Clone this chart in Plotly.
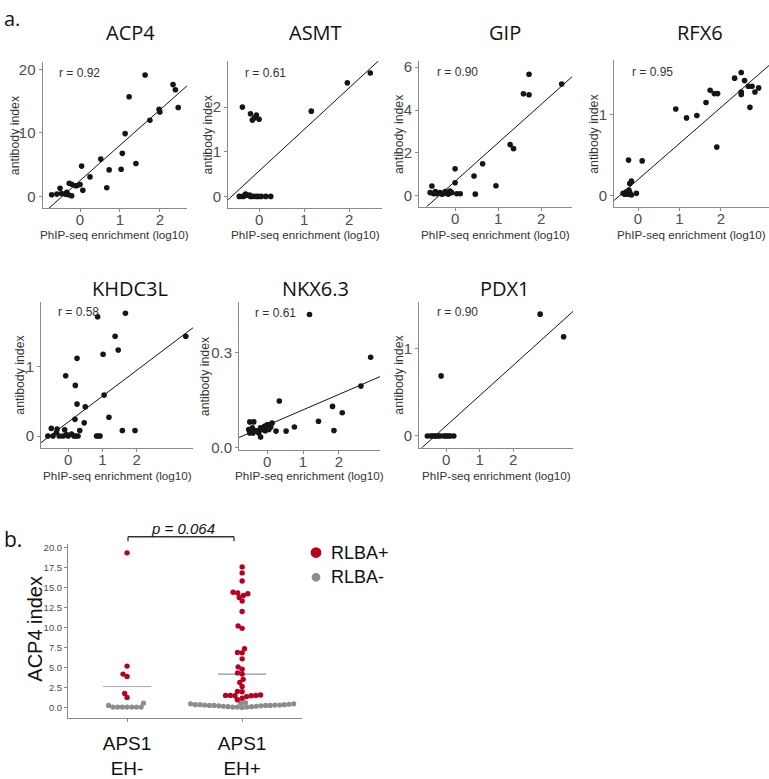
import numpy as np
import plotly.graph_objects as go

W, H = 769, 779

# ---------------- data: panel a (PhIP-seq enrichment vs antibody index) ----------------
gene_names = ["ACP4", "ASMT", "GIP", "RFX6", "KHDC3L", "NKX6.3", "PDX1"]
r_values = ["0.92", "0.61", "0.90", "0.95", "0.58", "0.61", "0.90"]

acp4_x = [1.63, 2.33, 2.39, 1.23, 2.46, 1.98, 2.0, 1.75, 1.13, 0.52, 1.06, 1.40, 0.04, 0.73, 1.03,
          0.25, 0.67, -0.27, 0.0, 0.07, -0.12, -0.5, -0.71, -0.58, -0.46, -0.37, -0.29, -0.21,
          -0.33, -0.08, -0.21]
acp4_y = [19.1, 17.6, 16.8, 15.7, 14.0, 13.7, 13.3, 12.0, 9.9, 5.9, 6.8, 5.2, 4.8, 4.2, 4.3,
          3.1, 1.4, 2.1, 1.9, 1.0, 1.7, 1.3, 0.3, 0.4, 0.5, 0.4, 0.3, 0.15,
          0.67, 1.7, 1.95]

asmt_x = [-0.37, -0.19, -0.06, -0.15, -0.10, 0.0, 1.16, 1.96, 2.47, -0.44, -0.36, -0.30, -0.24,
          -0.19, -0.13, -0.07, -0.02, 0.05, 0.15, 0.26, -0.33, -0.21]
asmt_y = [2.0, 1.85, 1.82, 1.71, 1.76, 1.73, 1.91, 2.54, 2.76, 0.01, 0.01, 0.06, 0.03,
          0.01, 0.01, 0.01, 0.01, 0.01, 0.01, 0.01, 0.02, 0.04]

gip_x = [1.72, 2.48, 1.59, 1.72, 1.28, 1.36, 0.64, 0.0, 0.44, 0.0, 0.95, -0.54, 0.47, -0.58,
         -0.5, -0.43, -0.35, -0.27, -0.19, -0.12, -0.16, -0.08, 0.04, 0.12, -0.46, -0.31, -0.23]
gip_y = [5.67, 5.21, 4.76, 4.71, 2.39, 2.2, 1.5, 1.26, 0.93, 0.61, 0.47, 0.46, 0.08, 0.15,
         0.1, 0.1, 0.15, 0.1, 0.15, 0.23, 0.08, 0.15, 0.1, 0.1, 0.2, 0.08, 0.2]

rfx6_x = [2.49, 2.33, 2.57, 2.75, 2.91, 2.66, 1.74, 1.84, 1.92, 2.49, 2.49, 2.82, 1.64, 2.70,
          0.91, 1.17, 1.42, 1.90, -0.23, 0.10, -0.16, -0.20, -0.36, -0.28, -0.24, -0.20, -0.16,
          -0.04, -0.32, -0.22]
rfx6_y = [1.52, 1.45, 1.42, 1.35, 1.33, 1.35, 1.30, 1.26, 1.26, 1.28, 1.25, 1.28, 1.15, 1.09,
          1.07, 0.96, 0.99, 0.60, 0.44, 0.43, 0.18, 0.15, 0.03, 0.05, 0.02, 0.04, 0.01,
          0.03, 0.02, 0.07]

khdc3l_x = [0.86, 1.67, 1.37, 3.43, 1.46, 1.02, 0.26, -0.07, 0.21, 1.05, 0.26, 0.50, 0.20, 1.19,
            0.47, 1.58, 1.95, 0.34, -0.49, -0.32, -0.10, -0.59, -0.44, -0.26, -0.15, 0.0, 0.17,
            0.29, 0.83, 0.93, 0.22, -0.05, 0.10, -0.34, 0.88]
khdc3l_y = [1.72, 1.77, 1.44, 1.44, 1.24, 1.18, 1.12, 0.87, 0.73, 0.59, 0.46, 0.42, 0.24, 0.27,
            0.19, 0.08, 0.08, 0.08, 0.11, 0.10, 0.09, 0.0, 0.0, 0.0, 0.0, 0.0, 0.0,
            0.0, 0.0, 0.0, 0.0, 0.02, 0.03, 0.05, 0.0]

nkx63_x = [1.18, 2.88, 2.61, 0.34, 1.82, 2.09, 1.43, 0.76, 0.53, 1.86, 0.25, -0.48, -0.37,
           -0.51, -0.41, -0.32, -0.23, -0.18, -0.14, -0.07, 0.0, 0.05, 0.14, -0.28, -0.05,
           -0.39, 0.05, -0.18, -0.48, 0.10, -0.10]
nkx63_y = [0.421, 0.286, 0.195, 0.148, 0.131, 0.111, 0.084, 0.066, 0.053, 0.055, 0.053, 0.082,
           0.082, 0.058, 0.063, 0.054, 0.047, 0.034, 0.058, 0.068, 0.073, 0.073, 0.078, 0.054,
           0.054, 0.047, 0.058, 0.063, 0.047, 0.065, 0.060]

pdx1_x = [2.81, 3.51, -0.15, -0.56, -0.46, -0.36, -0.27, -0.17, -0.07, 0.03, 0.13, 0.23, -0.41,
          -0.22, -0.02, -0.31, 0.08]
pdx1_y = [1.40, 1.14, 0.69, 0.0, 0.0, 0.0, 0.0, 0.0, 0.0, 0.0, 0.0, 0.0, 0.0,
          0.0, 0.0, 0.0, 0.0]

# fitted regression lines (slope, intercept)
fit_slope = [5.55, 0.926, 1.79, 0.445, 0.374, 0.049, 0.347]
fit_intercept = [2.52, 0.575, 0.68, 0.20, 0.20, 0.071, 0.116]

# ---------------- data: panel b (ACP4 index by group) ----------------
group_labels = ["APS1<br>EH-", "APS1<br>EH+"]
eh_minus_pos = [19.3, 5.2, 4.2, 3.9, 1.8, 1.3]
eh_minus_neg = [0.6, 0.3, 0.1, 0.1, 0.1, 0.1, 0.1, 0.1, 0.1]
eh_plus_pos = [17.55, 16.8, 15.8, 14.3, 14.2, 14.0, 14.4, 13.75, 13.3, 12.0, 10.2, 9.9, 7.35,
               6.9, 6.85, 6.1, 5.1, 4.8, 4.35, 4.2, 3.55, 3.15, 2.65, 2.05, 2.0, 1.55, 1.6,
               1.5, 1.5, 1.55, 1.55, 1.0, 1.2, 1.4]
eh_plus_neg = [0.5, 0.45, 0.4, 0.4, 0.35, 0.3, 0.3, 0.2, 0.15, 0.1, 0.1, 0.05, 0.1, 0.15, 0.2,
               0.25, 0.25, 0.3, 0.3, 0.35, 0.35, 0.4, 0.5, 0.6, 0.65]
group_means = [2.65, 4.2]
p_value_text = "p = 0.064"
legend_labels = ["RLBA+", "RLBA-"]

# ---------------- styling ----------------
ARIAL = "Liberation Sans, Arial, sans-serif"
TITLEF = "Open Sans, Liberation Sans, sans-serif"
AXCOL = "#8a8a8a"
TXTCOL = "#4d4d4d"
RED = "#B8001F"
GREY = "#8C8C8C"


def px2paper(xp, yp):
    return xp / W, 1 - yp / H


# panel geometry: (x0, x1, ytop, ybottom) in px, x range, y range, y ticks
geom = [
    dict(px=(42.5, 187, 60, 207.5), xr=(-0.94, 2.68), yr=(-1.8, 21.1), yt=[0, 10, 20], yfmt="d", ylab=15, title=(130, 30), rl=(57, 71)),
    dict(px=(228, 382, 59, 207), xr=(-0.69, 2.73), yr=(-0.24, 3.02), yt=[0, 1, 2], yfmt="d", ylab=208, title=(315, 30), rl=(243, 71)),
    dict(px=(419, 572, 59, 206), xr=(-0.84, 2.72), yr=(-0.5, 6.27), yt=[0, 2, 4, 6], yfmt="d", ylab=399, title=(505, 30), rl=(435, 70)),
    dict(px=(614, 769, 58, 206.5), xr=(-0.58, 3.16), yr=(-0.14, 1.67), yt=[0, 1], yfmt="d", ylab=594, title=(700, 30), rl=(630, 70)),
    dict(px=(41, 193, 302, 450), xr=(-0.79, 3.64), yr=(-0.17, 1.94), yt=[0, 1], yfmt="d", ylab=20, title=(130, 289), rl=(56, 313)),
    dict(px=(239, 380, 303, 452), xr=(-0.78, 3.14), yr=(-0.006, 0.459), yt=[0.0, 0.3], yfmt=".1f", ylab=205, title=(315, 289), rl=(253, 314)),
    dict(px=(419, 573, 302, 450), xr=(-0.81, 3.79), yr=(-0.136, 1.545), yt=[0, 1], yfmt="d", ylab=399, title=(505, 289), rl=(435, 313)),
]
xs = [acp4_x, asmt_x, gip_x, rfx6_x, khdc3l_x, nkx63_x, pdx1_x]
ys = [acp4_y, asmt_y, gip_y, rfx6_y, khdc3l_y, nkx63_y, pdx1_y]

fig = go.Figure()
layout = dict(width=W, height=H, margin=dict(l=0, r=0, t=0, b=0),
              paper_bgcolor="white", plot_bgcolor="white", showlegend=False)
annotations = []
shapes = []


def axis_common():
    return dict(showline=True, linecolor=AXCOL, linewidth=1, ticks="outside", ticklen=3,
                tickcolor=AXCOL, tickwidth=1, showgrid=False, zeroline=False,
                tickfont=dict(family=ARIAL, size=15, color=TXTCOL))


for i, g in enumerate(geom):
    k = i + 1
    sx = "" if k == 1 else str(k)
    x0, x1, yt, yb = g["px"]
    xa = axis_common()
    xa.update(domain=[x0 / W, x1 / W], range=list(g["xr"]), anchor="y" + sx,
              tickvals=[0, 1, 2], ticklabelstandoff=-5)
    ya = axis_common()
    ya.update(domain=[1 - yb / H, 1 - yt / H], range=list(g["yr"]), anchor="x" + sx,
              tickvals=g["yt"], tickformat=g["yfmt"])
    layout["xaxis" + sx] = xa
    layout["yaxis" + sx] = ya

    # regression line (clipped by the subplot)
    lx = np.array(g["xr"])
    ly = fit_slope[i] * lx + fit_intercept[i]
    fig.add_trace(go.Scatter(x=lx, y=ly, mode="lines", line=dict(color="#111111", width=1),
                             xaxis="x" + sx, yaxis="y" + sx, hoverinfo="skip"))
    fig.add_trace(go.Scatter(x=xs[i], y=ys[i], mode="markers",
                             marker=dict(color="#151515", size=5.6, line=dict(width=0)),
                             xaxis="x" + sx, yaxis="y" + sx, cliponaxis=False))

    # title
    tx, ty = px2paper(*g["title"])
    annotations.append(dict(x=tx, y=ty, xref="paper", yref="paper", text=gene_names[i],
                            showarrow=False, xanchor="center", yanchor="middle",
                            font=dict(family=TITLEF, size=20, color="#111")))
    # r label
    rx, ry = px2paper(*g["rl"])
    annotations.append(dict(x=rx, y=ry, xref="paper", yref="paper", text="r = " + r_values[i],
                            showarrow=False, xanchor="left", yanchor="middle",
                            font=dict(family=ARIAL, size=12, color="#333")))
    # axis titles
    xtx, xty = px2paper((x0 + x1) / 2, 234 if yb < 300 else 478)
    annotations.append(dict(x=xtx, y=xty, xref="paper", yref="paper",
                            text="PhIP-seq enrichment (log10)", showarrow=False,
                            xanchor="center", yanchor="middle",
                            font=dict(family=ARIAL, size=11.7, color="#333")))
    ytx, yty = px2paper(g["ylab"], (yt + yb) / 2)
    annotations.append(dict(x=ytx, y=yty, xref="paper", yref="paper",
                            text="antibody index", showarrow=False, textangle=-90,
                            xanchor="center", yanchor="middle",
                            font=dict(family=ARIAL, size=12.3, color="#333")))

# ---------------- panel b ----------------
BX0, BX1, BYT, BYB = 68, 302, 547, 723
b_yr = (-1.22, 20.44)
b_xr = (0.487, 2.52)
ypx_unit = (BYB - BYT) / (b_yr[1] - b_yr[0])
xpx_unit = (BX1 - BX0) / (b_xr[1] - b_xr[0])


def swarm(values, d_px=4.7):
    vals = np.asarray(values, dtype=float)
    order = np.argsort(vals, kind="stable")
    placed = []
    offs = np.zeros(len(vals))
    for idx in order:
        yi = vals[idx] * ypx_unit
        cands = [0.0]
        for (xj, yj) in placed:
            dy = abs(yi - yj)
            if dy < d_px:
                dx = np.sqrt(d_px ** 2 - dy ** 2)
                cands += [xj + dx, xj - dx]
        cands = sorted(cands, key=lambda c: (abs(c), c))
        for c in cands:
            if all((c - xj) ** 2 + (yi - yj) ** 2 >= d_px ** 2 - 1e-6 for xj, yj in placed):
                offs[idx] = c
                placed.append((c, yi))
                break
    return offs / xpx_unit


groups = [(eh_minus_pos, eh_minus_neg), (eh_plus_pos, eh_plus_neg)]
bxa = axis_common()
bxa.update(domain=[BX0 / W, BX1 / W], range=list(b_xr), anchor="y8", tickvals=[1, 2],
           ticktext=group_labels, ticklabelstandoff=6,
           tickfont=dict(family=ARIAL, size=19, color="#111"))
bya = axis_common()
bya.update(domain=[1 - BYB / H, 1 - BYT / H], range=list(b_yr), anchor="x8",
           tickvals=[0, 2.5, 5, 7.5, 10, 12.5, 15, 17.5, 20], tickformat=".1f",
           tickfont=dict(family=ARIAL, size=9.5, color=TXTCOL))
layout["xaxis8"] = bxa
layout["yaxis8"] = bya

mean_cols = ["#aaaaaa", "#777777"]
for gi, (pos, neg) in enumerate(groups):
    center = gi + 1
    fig.add_trace(go.Scatter(x=[center - 0.21, center + 0.21], y=[group_means[gi]] * 2,
                             mode="lines", line=dict(color=mean_cols[gi], width=1),
                             xaxis="x8", yaxis="y8", hoverinfo="skip"))
    allv = list(pos) + list(neg)
    offs = swarm(allv)
    npos = len(pos)
    fig.add_trace(go.Scatter(x=center + offs[npos:], y=neg, mode="markers",
                             marker=dict(color=GREY, size=5.2, line=dict(width=0)),
                             xaxis="x8", yaxis="y8", cliponaxis=False))
    fig.add_trace(go.Scatter(x=center + offs[:npos], y=pos, mode="markers",
                             marker=dict(color=RED, size=5.4, line=dict(width=0)),
                             xaxis="x8", yaxis="y8", cliponaxis=False))

# y title of panel b
ax_, ay_ = px2paper(35, 633)
annotations.append(dict(x=ax_, y=ay_, xref="paper", yref="paper", text="ACP4 index",
                        showarrow=False, textangle=-90, xanchor="center", yanchor="middle",
                        font=dict(family=ARIAL, size=20, color="#111")))

# significance bracket
for (xa0, ya0, xa1, ya1) in [(128, 544.5, 128, 540), (128, 540, 234, 540), (234, 540, 234, 544.5)]:
    p0 = px2paper(xa0, ya0)
    p1 = px2paper(xa1, ya1)
    shapes.append(dict(type="line", xref="paper", yref="paper", x0=p0[0], y0=p0[1],
                       x1=p1[0], y1=p1[1], line=dict(color="#333", width=1.3)))
px_, py_ = px2paper(183, 532)
annotations.append(dict(x=px_, y=py_, xref="paper", yref="paper",
                        text="<i>" + p_value_text + "</i>", showarrow=False,
                        xanchor="center", yanchor="middle",
                        font=dict(family=ARIAL, size=15, color="#111")))

# legend (manual)
for (cx, cy, rad, col), lab in zip([(316, 556, 5.4, RED), (316, 581, 4.4, GREY)], legend_labels):
    a0 = px2paper(cx - rad, cy + rad)
    a1 = px2paper(cx + rad, cy - rad)
    shapes.append(dict(type="circle", xref="paper", yref="paper", x0=a0[0], y0=a0[1],
                       x1=a1[0], y1=a1[1], fillcolor=col, line=dict(width=0)))
    tx, ty = px2paper(329, cy)
    annotations.append(dict(x=tx, y=ty, xref="paper", yref="paper", text=lab,
                            showarrow=False, xanchor="left", yanchor="middle",
                            font=dict(family=ARIAL, size=18, color="#111")))

# panel letters
tx, ty = px2paper(2, 0.5)
annotations.append(dict(x=tx, y=ty, xref="paper", yref="paper", text="a.",
                        showarrow=False, xanchor="left", yanchor="top",
                        font=dict(family=TITLEF, size=20, color="#111")))
tx, ty = px2paper(2, 542)
annotations.append(dict(x=tx, y=ty, xref="paper", yref="paper", text="b.",
                        showarrow=False, xanchor="left", yanchor="middle",
                        font=dict(family=TITLEF, size=21, color="#111")))

layout["annotations"] = annotations
layout["shapes"] = shapes
fig.update_layout(**layout)

fig.write_html("out.html", config={"displayModeBar": False},
               post_script="document.body.style.margin='0';")
